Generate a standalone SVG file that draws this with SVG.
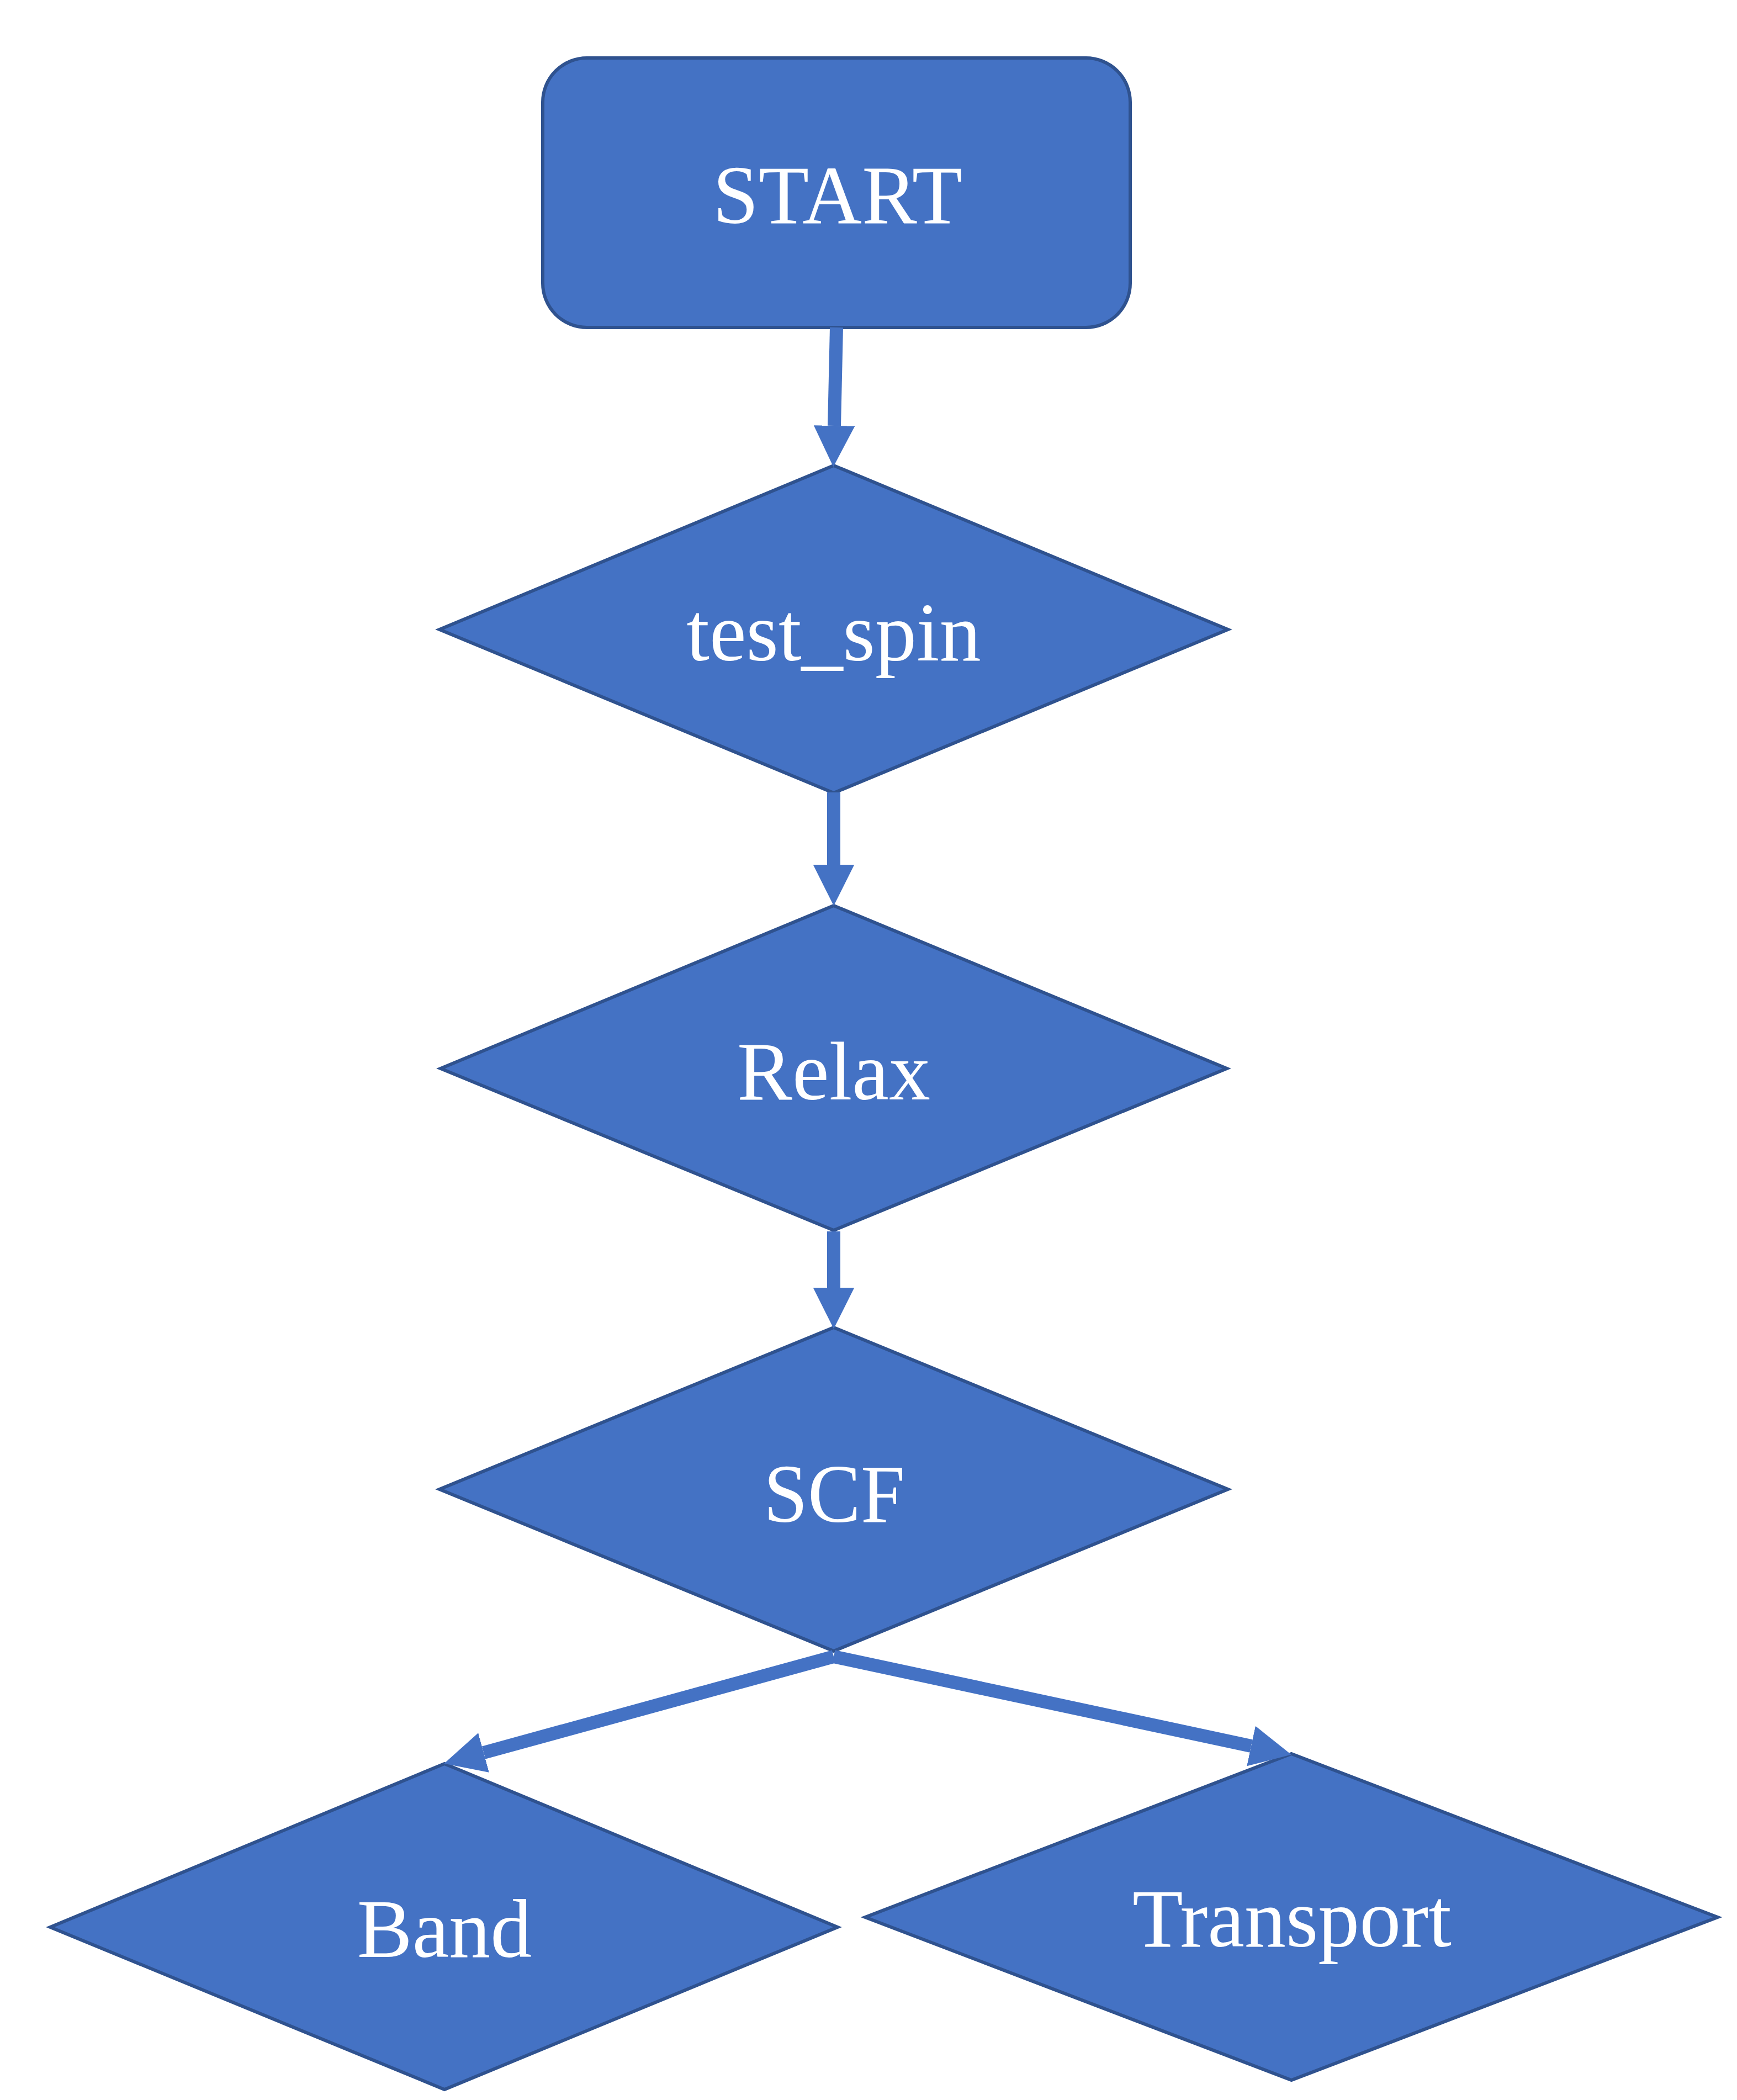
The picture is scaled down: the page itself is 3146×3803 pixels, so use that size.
<svg xmlns="http://www.w3.org/2000/svg" width="3146" height="3803" viewBox="0 0 3146 3803">
  <style>
    .node { fill: #4472C4; stroke: #2F528F; stroke-width: 6; stroke-linejoin: miter; }
    .label { font-family: "Liberation Serif", "Times New Roman", serif; font-size: 150px; fill: #FFFFFF; text-anchor: middle; }
    .edge { stroke: #4472C4; stroke-width: 24; fill: none; marker-end: url(#arrow); }
  </style>
  <defs>
    <marker id="arrow" viewBox="0 0 10 10" refX="0" refY="5" markerWidth="3.1" markerHeight="3.1" markerUnits="strokeWidth" orient="auto">
      <path d="M0,0 L10,5 L0,10 z" fill="#4472C4"/>
    </marker>
  </defs>
  <rect width="3146" height="3803" fill="#FFFFFF"/>

  <g id="start">
    <rect class="node" x="983" y="105" width="1064" height="488" rx="80" ry="80"/>
    <text class="label" x="1517" y="404" textLength="452" lengthAdjust="spacingAndGlyphs">START</text>
  </g>
  <g id="test_spin">
    <polygon class="node" points="1510,843 2224,1140 1510,1436 796,1140"/>
    <text class="label" x="1510" y="1196">test_spin</text>
  </g>
  <g id="relax">
    <polygon class="node" points="1510,1640 2222,1935 1510,2228 798,1935"/>
    <text class="label" x="1510" y="1991">Relax</text>
  </g>
  <g id="scf">
    <polygon class="node" points="1510,2404 2224,2697 1510,2990 796,2697"/>
    <text class="label" x="1511" y="2756" textLength="256" lengthAdjust="spacingAndGlyphs">SCF</text>
  </g>
  <g id="band">
    <polygon class="node" points="805,3194 1517,3490 805,3784 91,3490"/>
    <text class="label" x="805" y="3544">Band</text>
  </g>
  <g id="transport">
    <polygon class="node" points="2339,3176 3111,3472 2339,3767 1567,3472"/>
    <text class="label" x="2340" y="3525">Transport</text>
  </g>

  <g id="connectors">
    <line class="edge" x1="1515" y1="593" x2="1511" y2="771"/>
    <line class="edge" x1="1510" y1="1435" x2="1510" y2="1566"/>
    <line class="edge" x1="1510" y1="2230" x2="1510" y2="2332"/>
    <line class="edge" x1="1510" y1="3000" x2="876" y2="3174"/>
    <line class="edge" x1="1510" y1="3000" x2="2266" y2="3162"/>
  </g>
</svg>
